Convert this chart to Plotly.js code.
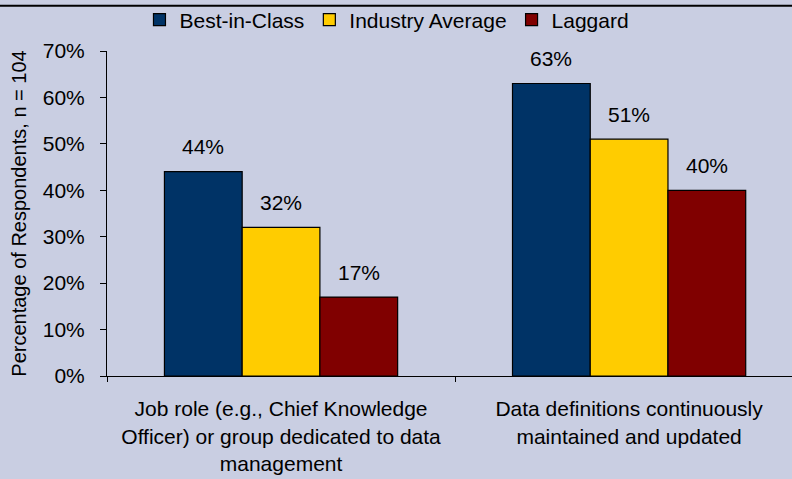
<!DOCTYPE html>
<html>
<head>
<meta charset="utf-8">
<script src="https://cdn.plot.ly/plotly-3.0.1.min.js"></script>
<style>html,body{margin:0;padding:0;background:#C9CEE2;}#chart{width:792px;height:479px;}</style>
</head>
<body>
<div id="chart"></div>
<script>
const categories = [
  "Job role (e.g., Chief Knowledge<br>Officer) or group dedicated to data<br>management",
  "Data definitions continuously<br>maintained and updated"
];
const seriesNames = ["Best-in-Class", "Industry Average", "Laggard"];
const bestInClass = [44, 63];
const industryAverage = [32, 51];
const laggard = [17, 40];
const yTickVals = [0, 10, 20, 30, 40, 50, 60, 70];
const colors = ["#003366", "#FFCC00", "#800000"];

const FONT = "Liberation Sans, Arial, sans-serif";
const FS = 21;
const seriesVals = [bestInClass, industryAverage, laggard];
const traces = seriesVals.map((vals, i) => ({
  type: "bar",
  name: seriesNames[i],
  x: categories,
  y: vals,
  marker: {color: colors[i], line: {color: "#000000", width: 1.2}},
  hoverinfo: "none"
}));

// bar width in px: plot width 685 over range 1.968 categories, bargap 0.33, 3 bars
const plotW = 685, xr = [-0.5, 1.468], bargap = 0.33;
const barPx = plotW / (xr[1] - xr[0]) * (1 - bargap) / 3;
const annotations = [];
seriesVals.forEach((vals, i) => {
  vals.forEach((v, j) => {
    annotations.push({
      x: categories[j], y: v, xref: "x", yref: "y",
      text: v + "%", showarrow: false,
      xshift: (i - 1) * barPx, yshift: 25, yanchor: "middle", xanchor: "center",
      font: {family: FONT, size: FS, color: "#000000"}
    });
  });
});

const layout = {
  width: 792, height: 479,
  paper_bgcolor: "#C9CEE2",
  plot_bgcolor: "#C9CEE2",
  margin: {l: 107, r: 0, t: 51, b: 103, pad: 0, autoexpand: false},
  font: {family: FONT, size: FS, color: "#000000"},
  barmode: "group",
  bargap: bargap,
  bargroupgap: 0,
  showlegend: true,
  legend: {
    orientation: "h", x: 0.4886, xanchor: "center",
    xref: "container", yref: "container",
    y: 1 - 20 / 479, yanchor: "middle",
    font: {family: FONT, size: FS, color: "#000000"},
    bgcolor: "rgba(0,0,0,0)", traceorder: "normal",
    itemwidth: 30
  },
  xaxis: {
    type: "category",
    range: xr,
    showline: true, linecolor: "#000000", linewidth: 1,
    ticks: "outside", tickson: "boundaries", ticklen: 5, tickcolor: "#000000",
    ticklabelstandoff: 14,
    showgrid: false, zeroline: false,
    tickfont: {family: FONT, size: FS, color: "#000000"},
    automargin: false,
    fixedrange: true
  },
  yaxis: {
    range: [0, 70],
    tickvals: yTickVals,
    ticktext: yTickVals.map(v => v + "%"),
    showline: true, linecolor: "#000000", linewidth: 1,
    ticks: "outside", ticklen: 6, tickcolor: "#000000",
    ticklabelstandoff: 11,
    showgrid: false, zeroline: false,
    tickfont: {family: FONT, size: FS, color: "#000000"},
    title: {text: "Percentage of Respondents, n = 104", font: {family: FONT, size: FS - 1, color: "#000000"}, standoff: 10},
    automargin: false,
    fixedrange: true
  },
  annotations: annotations,
  shapes: [
    {type: "line", xref: "paper", yref: "paper", x0: -0.2, x1: 1.1, y0: 1.139, y1: 1.139, line: {color: "#000000", width: 2}}
  ]
};
Plotly.newPlot("chart", traces, layout, {displayModeBar: false, staticPlot: true});
</script>
</body>
</html>
